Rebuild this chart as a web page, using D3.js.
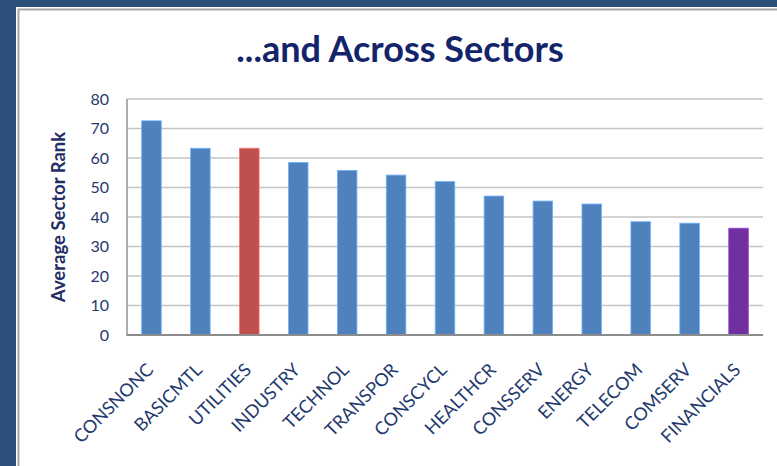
<!DOCTYPE html>
<html>
<head>
<meta charset="utf-8">
<script src="https://cdn.jsdelivr.net/npm/d3@7"></script>
<style>
  html, body { margin: 0; padding: 0; background: #2b517b; }
  svg { display: block; }
</style>
</head>
<body>
<div id="chart"></div>
<script>
const sectors = ["CONSNONC", "BASICMTL", "UTILITIES", "INDUSTRY", "TECHNOL", "TRANSPOR",
  "CONSCYCL", "HEALTHCR", "CONSSERV", "ENERGY", "TELECOM", "COMSERV", "FINANCIALS"];
const avgRank = [72.6, 63.3, 63.3, 58.5, 55.8, 54.2, 52.0, 47.1, 45.4, 44.4, 38.4, 37.9, 36.2];
const barColors = ["#4f81bd", "#4f81bd", "#c0504d", "#4f81bd", "#4f81bd", "#4f81bd", "#4f81bd",
  "#4f81bd", "#4f81bd", "#4f81bd", "#4f81bd", "#4f81bd", "#7030a0"];
const yTicks = [0, 10, 20, 30, 40, 50, 60, 70, 80];

const width = 777, height = 466;
const plot = { left: 127, right: 763, top: 99, bottom: 335 };
const textColor = "#1f3a6e";

const svg = d3.select("#chart").append("svg")
  .attr("width", width)
  .attr("height", height);

// outer frame / white panel
svg.append("rect").attr("x", 0).attr("y", 0).attr("width", width).attr("height", height).attr("fill", "#2b517b");
svg.append("rect").attr("x", 16).attr("y", 7).attr("width", width).attr("height", height).attr("fill", "#ffffff");
svg.append("rect").attr("x", 18.5).attr("y", 9.5).attr("width", width).attr("height", height)
  .attr("fill", "#ffffff").attr("stroke", "#a6a6a6").attr("stroke-width", 2);

const x = d3.scaleBand()
  .domain(sectors)
  .range([plot.left, plot.right])
  .paddingInner(0.6)
  .paddingOuter(0.3);

const y = d3.scaleLinear()
  .domain([0, 80])
  .range([plot.bottom, plot.top]);

// gridlines
svg.append("g")
  .selectAll("line")
  .data(yTicks.filter(d => d > 0))
  .join("line")
  .attr("x1", plot.left).attr("x2", plot.right)
  .attr("y1", d => y(d)).attr("y2", d => y(d))
  .attr("stroke", "#c4c4c4")
  .attr("stroke-width", 1.6);

// bars
svg.append("g")
  .selectAll("rect")
  .data(avgRank)
  .join("rect")
  .attr("x", (d, i) => x(sectors[i]))
  .attr("y", d => y(d))
  .attr("width", x.bandwidth())
  .attr("height", d => y(0) - y(d))
  .attr("fill", (d, i) => barColors[i])
  .attr("stroke", (d, i) => d3.color(barColors[i]).brighter(0.9))
  .attr("stroke-width", 0.8);

// axes lines
svg.append("line")
  .attr("x1", plot.left).attr("x2", plot.left)
  .attr("y1", plot.top).attr("y2", plot.bottom + 1)
  .attr("stroke", "#9a9a9a").attr("stroke-width", 1.6);
svg.append("line")
  .attr("x1", plot.left).attr("x2", plot.right)
  .attr("y1", plot.bottom).attr("y2", plot.bottom)
  .attr("stroke", "#8c8c8c").attr("stroke-width", 1.8);

// y tick labels
const yAxis = d3.axisLeft(y).tickValues(yTicks).tickSize(0).tickPadding(18);
const yg = svg.append("g")
  .attr("transform", `translate(${plot.left},0)`)
  .call(yAxis);
yg.select(".domain").remove();
yg.selectAll("text")
  .attr("fill", textColor)
  .style("font-family", "Lato, 'Open Sans', sans-serif")
  .style("font-size", "16px");

// x category labels
svg.append("g")
  .selectAll("text")
  .data(sectors)
  .join("text")
  .attr("transform", d => `translate(${x(d) + x.bandwidth() / 2 + 3},${plot.bottom + 36}) rotate(-45)`)
  .attr("text-anchor", "end")
  .attr("fill", textColor)
  .style("font-family", "Lato, 'Open Sans', sans-serif")
  .style("font-size", "18px")
  .text(d => d);

// axis title
svg.append("text")
  .attr("transform", `translate(65,${(plot.top + plot.bottom) / 2}) rotate(-90)`)
  .attr("text-anchor", "middle")
  .attr("fill", "#1f2f66")
  .style("font-family", "Lato, 'Open Sans', sans-serif")
  .style("font-weight", "bold")
  .style("font-size", "18.5px")
  .text("Average Sector Rank");

// chart title
svg.append("text")
  .attr("x", 400)
  .attr("y", 62)
  .attr("text-anchor", "middle")
  .attr("fill", "#14246b")
  .style("font-family", "Lato, 'Open Sans', sans-serif")
  .style("font-weight", "bold")
  .style("font-size", "36px")
  .text("...and Across Sectors");
</script>
</body>
</html>
